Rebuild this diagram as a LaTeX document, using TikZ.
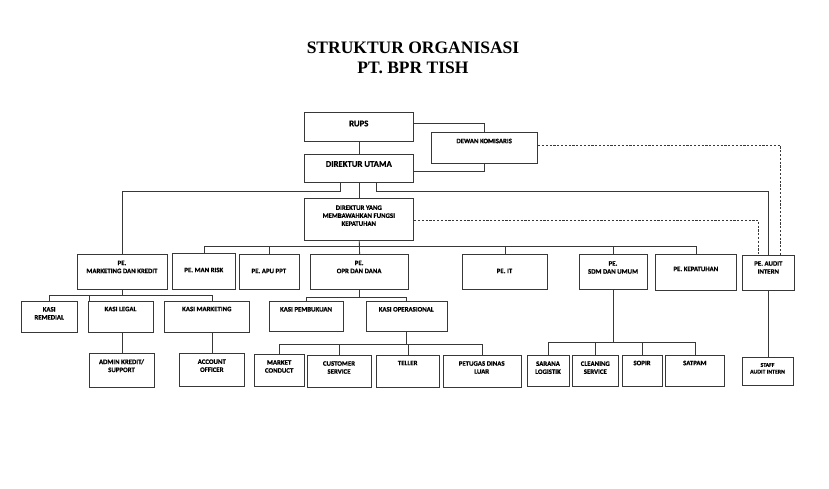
\documentclass[tikz,border=0pt]{standalone}
\usepackage{fontspec}
\newfontfamily\calfont[BoldFeatures={FakeBold=0.7}]{Carlito}
\newfontfamily\titlefont{Liberation Serif}
\tikzset{
  box/.style={draw=black!78, line width=0.95pt, inner sep=0pt, rectangle},
  txt/.style={font=\calfont\bfseries\fontsize{6.8}{8}\selectfont, align=center, inner sep=0pt, text=black},
  bigtxt/.style={font=\calfont\bfseries\fontsize{8.7}{10}\selectfont},
  smalltxt/.style={font=\calfont\bfseries\fontsize{5.8}{6.7}\selectfont},
  conn/.style={draw=black!78, line width=0.85pt},
  dashconn/.style={draw=black!78, line width=0.85pt, dash pattern=on 2.2pt off 1.6pt}
}
\newcommand\bx[8][]{%
  \node[box, minimum width={(#5-#3)*1pt}, minimum height={(#6-#4)*1pt}, anchor=north west] (#2) at (#3,#4) {};
  \node[txt,#1] (#2t) at ({(#3+#5)/2},#7) {#8};}
\begin{document}
\begin{tikzpicture}[x=1pt,y=-1pt]
\useasboundingbox[fill=white] (0,0) rectangle (829,488);
\node[font=\titlefont\bfseries\fontsize{17.5}{19.8}\selectfont, align=center, inner sep=0pt, text=black] (title) at (413,58) {STRUKTUR ORGANISASI\\PT. BPR TISH};
% boxes
\bx[bigtxt]{rups}{304.3}{112.3}{413.3}{141}{123.5}{RUPS}
\bx[bigtxt]{du}{304.3}{154.3}{413.3}{182}{164}{DIREKTUR UTAMA}
\bx{dk}{431}{132.3}{537.3}{163.3}{141}{DEWAN KOMISARIS}
\bx{dym}{304.3}{198.3}{413.3}{240}{215.7}{DIREKTUR YANG\\MEMBAWAHKAN FUNGSI\\KEPATUHAN}
\bx{mk}{77.3}{254.3}{166.7}{289.3}{267}{PE.\\MARKETING DAN KREDIT}
\bx{manrisk}{172.3}{253.3}{235.3}{288.7}{270}{PE. MAN RISK}
\bx{apu}{238.7}{254}{299}{289}{271}{PE. APU PPT}
\bx{opr}{310.3}{254}{408}{289}{267}{PE.\\OPR DAN DANA}
\bx{it}{461.7}{254.3}{547.3}{288.7}{271}{PE. IT}
\bx{sdm}{579.3}{254.3}{646.7}{289}{267.5}{PE.\\SDM DAN UMUM}
\bx{kep}{655.3}{254.3}{736.3}{290}{269}{PE. KEPATUHAN}
\bx{audit}{742.3}{255}{794.3}{290}{267.5}{PE. AUDIT\\INTERN}
\bx{rem}{21}{300.7}{77.3}{331.7}{313.3}{KASI\\REMEDIAL}
\bx{legal}{87.7}{300.7}{153.3}{331.7}{309}{KASI LEGAL}
\bx{mkt}{164.3}{300.7}{249.3}{331.7}{309}{KASI MARKETING}
\bx{pemb}{268.7}{301.3}{343.3}{330.7}{309.3}{KASI PEMBUKUAN}
\bx{oprs}{365.7}{301.3}{446.7}{330.7}{309.3}{KASI OPERASIONAL}
\bx{admin}{89.3}{353.3}{153.7}{386.7}{365.7}{ADMIN KREDIT/\\SUPPORT}
\bx{ao}{179.3}{353}{244.3}{386}{365.7}{ACCOUNT\\OFFICER}
\bx{mc}{254}{354}{304.3}{385.7}{366.5}{MARKET\\CONDUCT}
\bx{cs}{306.7}{355}{371.3}{386.7}{367.5}{CUSTOMER\\SERVICE}
\bx{teller}{376}{355}{439.3}{386.7}{363}{TELLER}
\bx{pet}{442.7}{355}{520.7}{386.7}{367.5}{PETUGAS DINAS\\LUAR}
\bx{sar}{526.7}{355.3}{569.3}{386}{367.7}{SARANA\\LOGISTIK}
\bx{clean}{572.3}{355.3}{618.3}{386}{367.7}{CLEANING\\SERVICE}
\bx{sopir}{621.7}{355.3}{662.3}{386}{363}{SOPIR}
\bx{satpam}{665.3}{355.3}{724.3}{386}{363}{SATPAM}
\bx[smalltxt]{staff}{741.7}{356.7}{793.3}{385.3}{368.3}{STAFF\\AUDIT INTERN}
% connectors: top
\draw[conn] (rups.south) -- (du.north);
\draw[conn] ([yshift=4pt]rups.east) -| (dk.north);
\draw[conn] ([yshift=-2.5pt]du.east) -| (dk.south);
\draw[dashconn] ([yshift=2.8pt]dk.east) -| ([xshift=11.7pt]audit.north);
\draw[dashconn] ([yshift=-0.8pt]dym.east) -| ([xshift=-10pt]audit.north);
\draw[conn] ([xshift=-18.8pt]du.south) -- ++(0,8) -| (mk.north);
\draw[conn] ([xshift=16.9pt]du.south) -- ++(0,8) -| (audit.north);
\draw[conn] (du.south) -- (dym.north);
% DYM bus
\coordinate (b1) at ([yshift=-5.7pt]dym.south);
\draw[conn] (dym.south) -- (opr.north);
\draw[conn] (manrisk.north) |- (b1) -| (kep.north);
\draw[conn] (apu.north) -- (apu.north |- b1);
\draw[conn] (it.north) -- (it.north |- b1);
\draw[conn] (sdm.north) -- (sdm.north |- b1);
% marketing & kredit
\coordinate (b2) at ([yshift=-5pt]mk.south);
\path ([xshift=1.3pt]legal.north west) coordinate (lg);
\draw[conn] (mk.south) -- (b2);
\draw[conn] (rem.north) |- (b2) -| (ao.north |- mkt.north);
\draw[conn] (lg) -- (lg |- b2);
\draw[conn] (admin.north |- legal.south) -- (admin.north);
\draw[conn] (ao.north |- mkt.south) -- (ao.north);
% opr dan dana
\coordinate (b3) at ([yshift=-7pt]opr.south);
\draw[conn] (opr.south) -- (b3);
\draw[conn] (pemb.north) |- (b3) -| (oprs.north);
\coordinate (b4) at ([yshift=-12.3pt]oprs.south);
\draw[conn] (oprs.south) -- (b4);
\draw[conn] (mc.north) |- (b4) -| (pet.north);
\draw[conn] (cs.north) -- (cs.north |- b4);
\draw[conn] (teller.north) -- (teller.north |- b4);
% sdm
\coordinate (b5) at ([yshift=-52pt]sdm.south);
\draw[conn] (sdm.south) -- (b5);
\draw[conn] (sar.north) |- (b5) -| (satpam.north);
\draw[conn] (clean.north) -- (clean.north |- b5);
\draw[conn] (sopir.north) -- (sopir.north |- b5);
% audit
\draw[conn] (audit.south) -- (audit.south |- staff.north);
\end{tikzpicture}
\end{document}
